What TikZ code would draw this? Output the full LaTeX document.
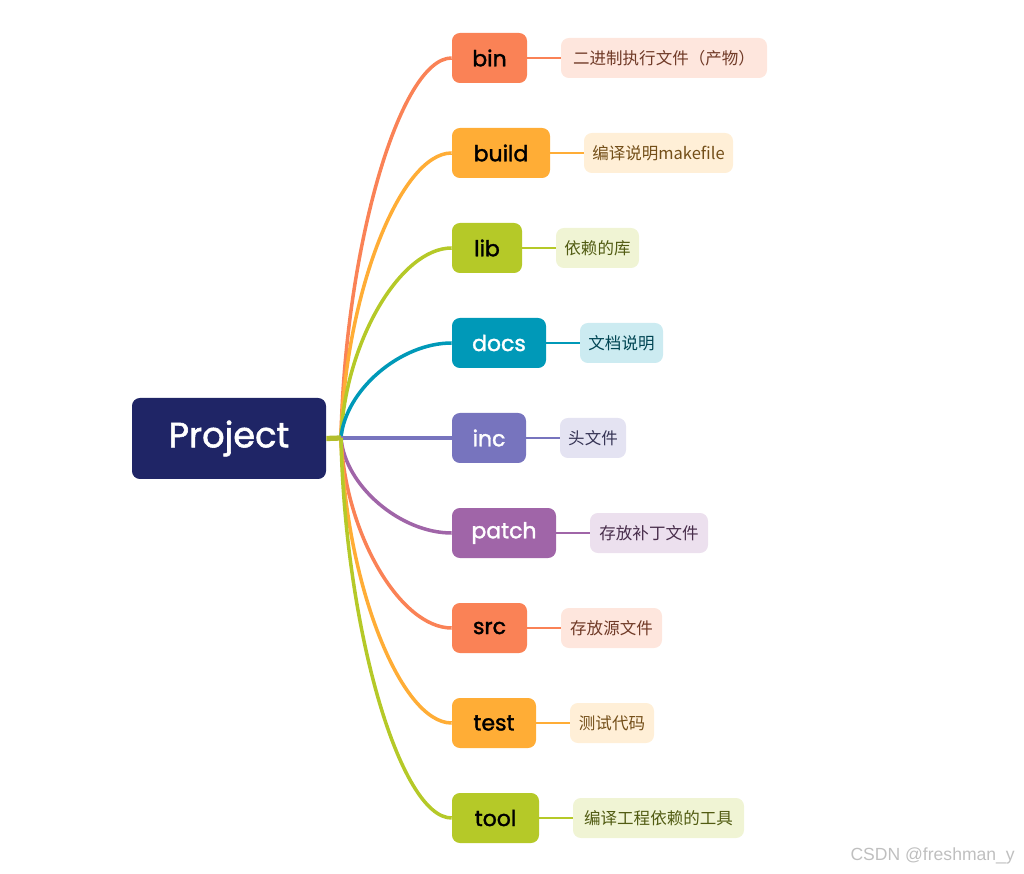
\documentclass[tikz,border=0pt]{standalone}
\usepackage{fontspec}
\usepackage{xcolor}
\setmainfont{Poppins}
\newfontfamily\topicfont[FakeBold=1.6]{Poppins}
\newfontfamily\cjk{Noto Sans CJK SC}
\newfontfamily\wmfont{Liberation Sans}
\definecolor{rootblue}{HTML}{1F2566}
\definecolor{stub}{HTML}{B3BE2C}
\definecolor{coral}{HTML}{FA8256}
\definecolor{amber}{HTML}{FFAD36}
\definecolor{lime}{HTML}{B5C928}
\definecolor{teal}{HTML}{0099B8}
\definecolor{lilac}{HTML}{7774BE}
\definecolor{plum}{HTML}{A065A8}

\begin{document}
\begin{tikzpicture}[x=0.02cm,y=-0.02cm,
  topic/.style={rounded corners=4.5pt,minimum height=50*0.02cm,inner sep=0pt,font=\fontsize{12.5}{14}\topicfont},
  note/.style={rounded corners=4.5pt,minimum height=40*0.02cm,inner sep=0pt,font=\fontsize{9.4}{11}\cjk}]
% canvas in px: 1024 x 874, y grows downwards
\useasboundingbox (0,0) rectangle (1024,874);
\node[fill=rootblue,text=white,rounded corners=4.5pt,minimum width=194*0.02cm,minimum height=81*0.02cm,
  font=\fontsize{20}{24}\topicfont] (root) at (229,438.5) {Project};
\coordinate (hub) at (341,438);
\foreach \n/\y/\w/\c/\tc/\lx/\lw/\t in {
  bin/58/75/coral/black/561/206/{二进制执行文件（产物）},
  build/153/98/amber/black/584/149/{编译说明makefile},
  lib/248/70/lime/black/556/83/{依赖的库},
  docs/343/94/teal/white/580/83/{文档说明},
  inc/438/74/lilac/white/560/66/{头文件},
  patch/533/104/plum/white/590/118/{存放补丁文件},
  src/628/75/coral/black/561/101/{存放源文件},
  test/723/84/amber/black/570/84/{测试代码},
  tool/818/87/lime/black/573/171/{编译工程依赖的工具}}
{
  \node[topic,fill=\c,text=\tc,minimum width=\w*0.02cm] (\n) at ({452+\w/2},\y) {\n};
  \node[note,fill=\c!20,text=\c!45!black,minimum width=\lw*0.02cm] (\n-note) at ({\lx+\lw/2},\y) {\t};
  \draw[\c,line width=2pt] (hub) .. controls (345,{438+(\y-438)*0.5}) and (400,\y) .. (\n.west);
  \draw[\c,line width=1.5pt] (\n.east) -- (\n-note.west);
}
\draw[stub,line width=3pt] (root.east) -- (hub);
\node[text=black!25,font=\fontsize{10}{12}\wmfont,anchor=east] (mark) at (1021,856) {CSDN @freshman\_y};
\end{tikzpicture}
\end{document}
